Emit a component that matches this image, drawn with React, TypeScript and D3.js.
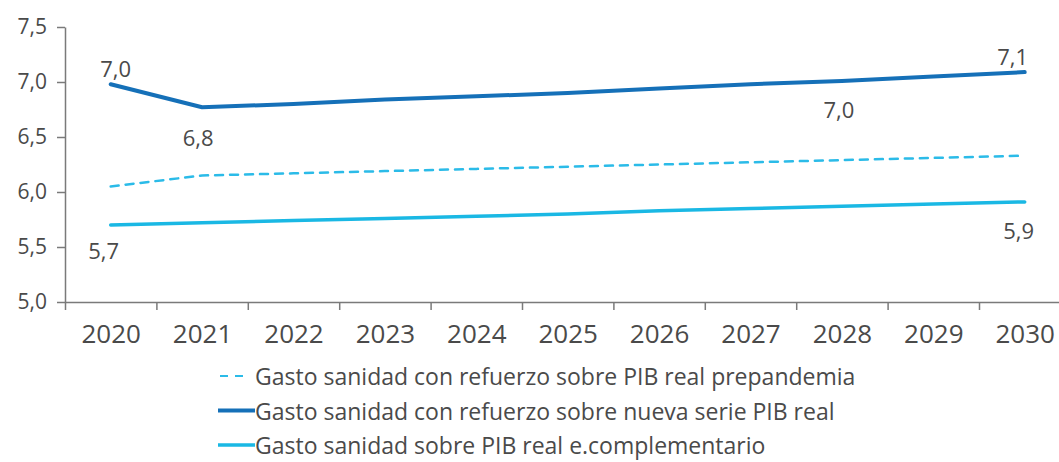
import { useRef, useEffect } from "react";
import * as d3 from "d3";

const years = [2020, 2021, 2022, 2023, 2024, 2025, 2026, 2027, 2028, 2029, 2030];
const prepandemia = [6.05, 6.15, 6.17, 6.19, 6.21, 6.23, 6.25, 6.27, 6.29, 6.31, 6.33];
const nuevaSerie = [6.98, 6.77, 6.8, 6.84, 6.87, 6.9, 6.94, 6.98, 7.01, 7.05, 7.09];
const complementario = [5.7, 5.72, 5.74, 5.76, 5.78, 5.8, 5.83, 5.85, 5.87, 5.89, 5.91];
const yTicks = [5.0, 5.5, 6.0, 6.5, 7.0, 7.5];
const seriesNames = [
  "Gasto sanidad con refuerzo sobre PIB real prepandemia",
  "Gasto sanidad con refuerzo sobre nueva serie PIB real",
  "Gasto sanidad sobre PIB real e.complementario",
];
// value labels: series index, year, text
const valueLabels: [number, number, string][] = [
  [1, 2020, "7,0"],
  [1, 2021, "6,8"],
  [1, 2028, "7,0"],
  [1, 2030, "7,1"],
  [2, 2020, "5,7"],
  [2, 2030, "5,9"],
];

const App = () => {
  const svgRef = useRef<SVGSVGElement>(null);

  useEffect(() => {
    const w = 1059;
    const h = 462;
    const svg = d3.select(svgRef.current).attr("width", w).attr("height", h);
    svg.selectAll("*").remove();

    const font = "'Open Sans', 'Noto Sans', sans-serif";
    const textColor = "#4a4a4a";
    const axisColor = "#7a7a7a";
    const colors = ["#2bbbe8", "#1570b8", "#1ab8e4"];

    const left = 65;
    const step = 91.4;
    const x = d3.scaleLinear()
      .domain([2019.5, 2030.5])
      .range([left, left + step * 11]);
    const y = d3.scaleLinear().domain([5, 7.5]).range([302, 27]);

    // y axis
    const yAxis = d3.axisLeft(y)
      .tickValues(yTicks)
      .tickFormat((d) => d3.format(".1f")(d as number).replace(".", ","))
      .tickSize(8)
      .tickPadding(10)
      .tickSizeOuter(0);
    const gy = svg.append("g").attr("transform", `translate(${left},0)`).call(yAxis);
    gy.select(".domain").attr("stroke", axisColor).attr("stroke-width", 1.5);
    gy.selectAll(".tick line").attr("stroke", axisColor).attr("stroke-width", 1.5);
    gy.selectAll(".tick text")
      .attr("fill", textColor)
      .style("font-family", font)
      .style("font-size", "21px");

    // x axis: boundary ticks
    const bounds = years.map((d) => d - 0.5).concat([2030.5]);
    const xTicksAxis = d3.axisBottom(x)
      .tickValues(bounds)
      .tickFormat(() => "")
      .tickSize(8)
      .tickSizeOuter(0);
    const gx = svg.append("g").attr("transform", `translate(0,${y(5)})`).call(xTicksAxis);
    gx.select(".domain").attr("stroke", axisColor).attr("stroke-width", 1.5);
    gx.selectAll(".tick line").attr("stroke", axisColor).attr("stroke-width", 1.5);

    // x axis labels
    const xLabelAxis = d3.axisBottom(x)
      .tickValues(years)
      .tickFormat((d) => String(d))
      .tickSize(0)
      .tickPadding(23);
    const gxl = svg.append("g").attr("transform", `translate(0,${y(5)})`).call(xLabelAxis);
    gxl.select(".domain").remove();
    gxl.selectAll(".tick text")
      .attr("fill", textColor)
      .style("font-family", font)
      .style("font-size", "26px");

    const line = d3.line<number>()
      .x((_, i) => x(years[i]))
      .y((d) => y(d));

    const allSeries = [prepandemia, nuevaSerie, complementario];
    const widths = [2.5, 4, 3.5];
    const dashes = ["8,7", null, null];

    allSeries.forEach((s, i) => {
      svg.append("path")
        .datum(s)
        .attr("fill", "none")
        .attr("stroke", colors[i])
        .attr("stroke-width", widths[i])
        .attr("stroke-linecap", "round")
        .attr("stroke-linejoin", "round")
        .attr("stroke-dasharray", dashes[i])
        .attr("d", line);
    });

    // value labels
    const offsets: Record<string, [number, number]> = {
      "1-2020": [5, -16],
      "1-2021": [-4, 30],
      "1-2028": [-3, 28],
      "1-2030": [-12, -16],
      "2-2020": [-7, 25],
      "2-2030": [-6, 28],
    };
    valueLabels.forEach(([si, yr, txt]) => {
      const v = allSeries[si][years.indexOf(yr)];
      const [dx, dy] = offsets[`${si}-${yr}`];
      svg.append("text")
        .attr("x", x(yr) + dx)
        .attr("y", y(v) + dy)
        .attr("text-anchor", "middle")
        .attr("dominant-baseline", "central")
        .attr("fill", textColor)
        .style("font-family", font)
        .style("font-size", "22px")
        .text(txt);
    });

    // legend
    const legend = svg.append("g").attr("transform", "translate(218,376)");
    seriesNames.forEach((name, i) => {
      const g = legend.append("g").attr("transform", `translate(0,${i * 34.5})`);
      g.append("line")
        .attr("x1", i === 0 ? 2 : 0)
        .attr("x2", i === 0 ? 32 : 37)
        .attr("y1", 0)
        .attr("y2", 0)
        .attr("stroke", colors[i])
        .attr("stroke-width", i === 0 ? 2 : widths[i])
        .attr("stroke-dasharray", i === 0 ? "8,7" : null);
      g.append("text")
        .attr("x", 37)
        .attr("y", 0)
        .attr("dominant-baseline", "central")
        .attr("fill", textColor)
        .style("font-family", font)
        .style("font-size", "23px")
        .text(name);
    });
  }, []);

  return (
    <div style={{ position: "absolute", top: 0, left: 0, width: 1059, height: 462, overflow: "hidden" }}>
      <svg ref={svgRef} style={{ display: "block" }}></svg>
    </div>
  );
};

export default App;
